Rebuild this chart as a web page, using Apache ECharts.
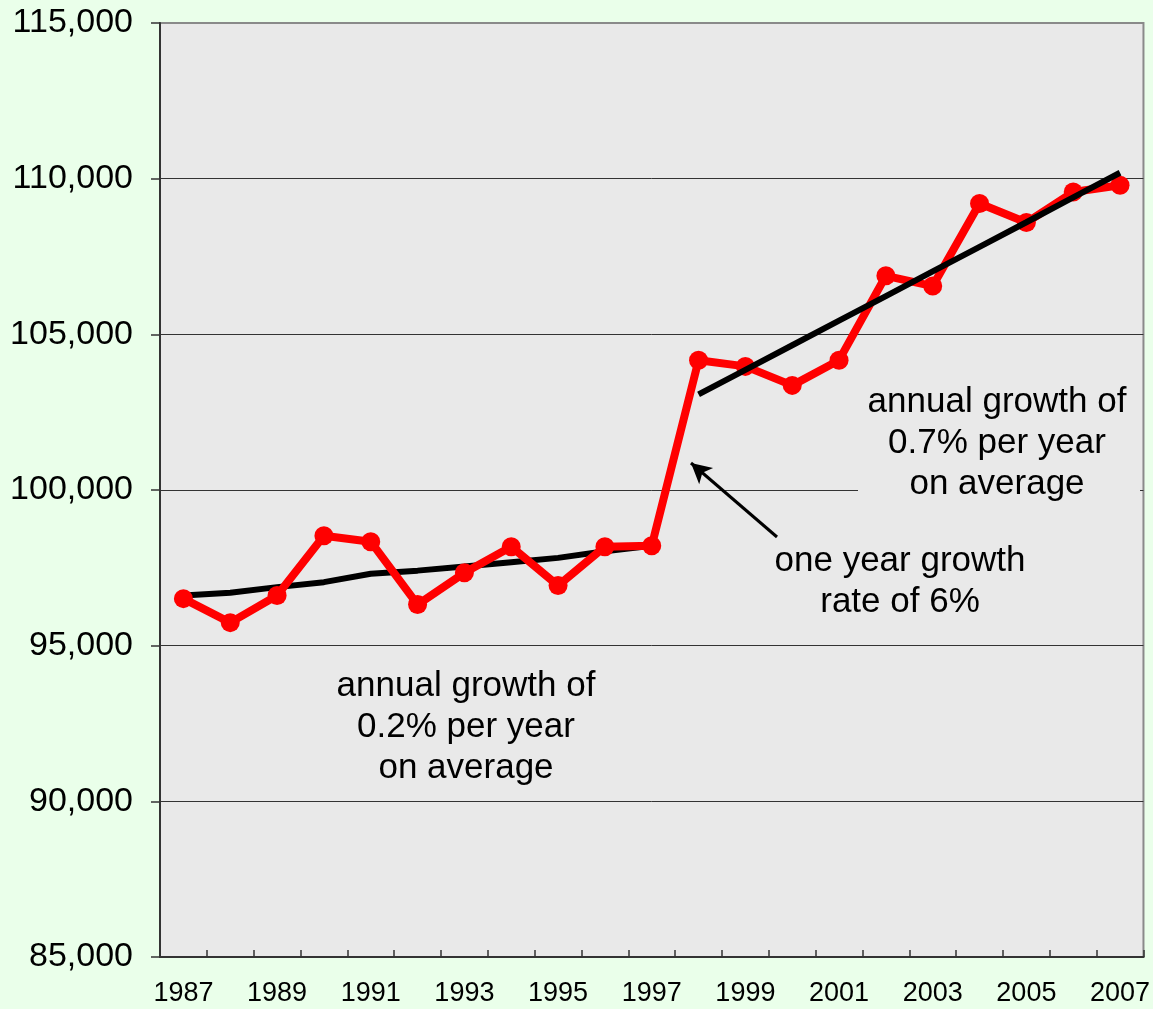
<!DOCTYPE html>
<html>
<head>
<meta charset="utf-8">
<script src="https://cdn.jsdelivr.net/npm/echarts@6/dist/echarts.min.js"></script>
<style>
  html, body { margin: 0; padding: 0; background: #eaffea; }
  #chart { width: 1153px; height: 1009px; }
</style>
</head>
<body>
<div id="chart"></div>
<script>
// years on the x axis
const years = ['1987', '1988', '1989', '1990', '1991', '1992', '1993', '1994', '1995', '1996', '1997',
  '1998', '1999', '2000', '2001', '2002', '2003', '2004', '2005', '2006', '2007']

// red series
const values = [96510, 95740, 96610, 98530, 98340, 96320, 97340, 98180, 96930, 98180, 98210,
  104170, 103970, 103360, 104170, 106880, 106550, 109200, 108590, 109570, 109790]

// black trend before the jump (1987-1997)
const trendEarly = [96610, 96700, 96880, 97040, 97310, 97410, 97540, 97680, 97820, 98030, 98210,
  null, null, null, null, null, null, null, null, null, null]

// black trend after the jump (1998-2007)
const trendLate = [null, null, null, null, null, null, null, null, null, null, null,
  103070, 103860, 104650, 105440, 106230, 107020, 107810, 108600, 109400, 110190]

const yTicks = { min: 85000, max: 115000, step: 5000 }

const FONT = "'Liberation Sans', Arial, sans-serif"

const chart = echarts.init(document.getElementById('chart'))

chart.setOption({
  backgroundColor: '#eaffea',
  animation: false,
  grid: {
    left: 160,
    top: 23,
    right: 6,
    bottom: 49,
    show: true,
    backgroundColor: '#e9e9e9',
    borderColor: '#8a8a8a',
    borderWidth: 2,
  },
  xAxis: {
    type: 'category',
    data: years,
    boundaryGap: true,
    axisLine: { lineStyle: { color: '#333', width: 2 } },
    axisTick: {
      show: true,
      inside: true,
      length: 7,
      interval: 0,
      lineStyle: { color: '#333', width: 1.5 },
    },
    axisLabel: {
      interval: 1,
      margin: 22,
      fontFamily: FONT,
      fontSize: 27,
      lineHeight: 30,
      color: '#000',
    },
    splitLine: { show: false },
  },
  yAxis: {
    type: 'value',
    min: yTicks.min,
    max: yTicks.max,
    interval: yTicks.step,
    axisLine: { show: true, lineStyle: { color: '#333', width: 2 } },
    axisTick: { show: true, length: 9, lineStyle: { color: '#333', width: 1.5 } },
    axisLabel: {
      margin: 27,
      fontFamily: FONT,
      fontSize: 34,
      color: '#000',
      formatter: v => v.toLocaleString('en-US'),
    },
    splitLine: {
      show: true,
      showMinLine: false,
      showMaxLine: false,
      lineStyle: { color: '#333', width: 1 },
    },
  },
  series: [
    {
      // early trend sits under the red markers
      type: 'line',
      data: trendEarly,
      showSymbol: false,
      z: 1,
      lineStyle: { color: '#000', width: 6 },
    },
    {
      type: 'line',
      data: values,
      symbol: 'circle',
      symbolSize: 19,
      z: 2,
      itemStyle: { color: '#ff0000' },
      lineStyle: { color: '#ff0000', width: 8 },
    },
    {
      // late trend is drawn over the red line
      type: 'line',
      data: trendLate,
      showSymbol: false,
      z: 3,
      lineStyle: { color: '#000', width: 6 },
      // arrow pointing at the jump
      markLine: {
        silent: true,
        symbol: ['none', 'arrow'],
        symbolSize: [16, 20],
        label: { show: false },
        lineStyle: { color: '#000', width: 3, type: 'solid' },
        data: [[{ x: 777, y: 537 }, { x: 691, y: 463 }]],
      },
    },
  ],
  graphic: [
    {
      // box behind the right text hides the gridline
      type: 'rect',
      z: 50,
      shape: { x: 858, y: 378, width: 282, height: 130 },
      style: { fill: '#e9e9e9' },
    },
    {
      type: 'text',
      z: 60,
      style: {
        text: 'annual growth of\n0.7% per year\non average',
        x: 997,
        y: 443,
        align: 'center',
        verticalAlign: 'middle',
        font: '35px ' + FONT,
        lineHeight: 41,
        fill: '#000',
      },
    },
    {
      type: 'text',
      z: 60,
      style: {
        text: 'one year growth\nrate of 6%',
        x: 900,
        y: 582,
        align: 'center',
        verticalAlign: 'middle',
        font: '35px ' + FONT,
        lineHeight: 41,
        fill: '#000',
      },
    },
    {
      type: 'text',
      z: 60,
      style: {
        text: 'annual growth of\n0.2% per year\non average',
        x: 466,
        y: 727,
        align: 'center',
        verticalAlign: 'middle',
        font: '35px ' + FONT,
        lineHeight: 41,
        fill: '#000',
      },
    },
  ],
})
</script>
</body>
</html>
